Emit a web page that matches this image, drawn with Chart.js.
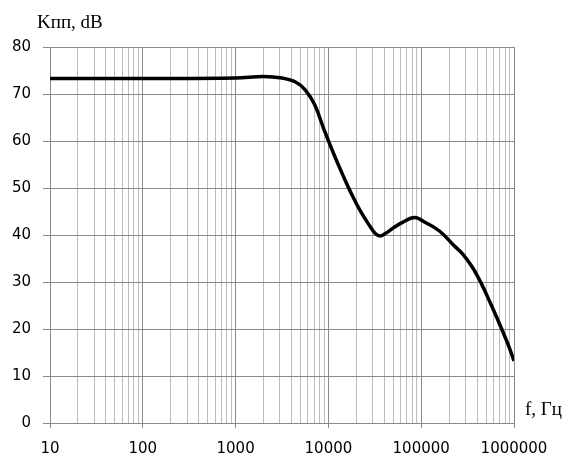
<!DOCTYPE html>
<html>
<head>
<meta charset="utf-8">
<script src="https://cdn.jsdelivr.net/npm/chart.js@4/dist/chart.umd.min.js"></script>
<style>
  html, body { margin: 0; padding: 0; background: #fff; }
  #wrap { width: 568px; height: 455px; }
</style>
</head>
<body>
<div id="wrap"><canvas id="kppChart" width="568" height="455"></canvas></div>
<script>
// Frequency response
const freqHz = [10, 100, 1000, 2000, 3160, 4470, 5620, 7080, 8910,
                11220, 14130, 17780, 22390, 28180, 32000, 36000, 41000, 50000, 63000,
                85110, 112200, 158500, 223900, 281800, 354800, 446700, 562300,
                707900, 891300, 1000000];
const gainDb = [73.3, 73.3, 73.4, 73.75, 73.4, 72.5, 70.9, 67.8, 62.6,
                57.6, 53.0, 48.7, 44.9, 41.8, 40.3, 39.8, 40.3, 41.5, 42.7,
                43.7, 42.6, 40.8, 37.8, 35.9, 33.2, 29.6, 25.3,
                20.8, 16.0, 13.2];

// Axis ticks
const decadeTicks = [10, 100, 1000, 10000, 100000, 1000000];
const minorSteps = [2, 3, 4, 5, 6, 7, 8, 9];
const yTicks = [0, 10, 20, 30, 40, 50, 60, 70, 80];

const yTitle = "Kпп, dB";
const xTitle = "f, Гц";

const points = freqHz.map((f, i) => ({ x: f, y: gainDb[i] }));

// all grid positions: decades plus 2..9 inside each decade
const xGridValues = [];
decadeTicks.forEach((d, i) => {
    xGridValues.push(d);
    if (i < decadeTicks.length - 1) {
        minorSteps.forEach(m => xGridValues.push(d * m));
    }
});

const isDecade = v => decadeTicks.includes(v);

// draws the two axis captions
const axisTitles = {
    id: "axisTitles",
    afterDraw(chart) {
        const c = chart.ctx;
        c.save();
        c.fillStyle = "#000";
        c.font = "19px 'Liberation Serif'";
        c.textBaseline = "alphabetic";
        c.textAlign = "left";
        c.fillText(yTitle, 37, 28);
        c.fillText(xTitle, 525, 415);
        c.restore();
    }
};

const ctx = document.getElementById("kppChart").getContext("2d");
new Chart(ctx, {
    type: "line",
    data: {
        datasets: [{
            data: points,
            borderColor: "#000",
            borderWidth: 3.5,
            pointRadius: 0,
            tension: 0.4,
            fill: false
        }]
    },
    options: {
        responsive: false,
        animation: false,
        layout: { padding: { top: 47, right: 54, left: 0, bottom: 0 } },
        plugins: {
            legend: { display: false },
            tooltip: { enabled: false }
        },
        scales: {
            x: {
                type: "logarithmic",
                min: 10,
                max: 1000000,
                afterBuildTicks: scale => {
                    scale.ticks = xGridValues.map(v => ({ value: v }));
                },
                afterFit: scale => { scale.height = 32; },
                ticks: {
                    autoSkip: false,
                    maxRotation: 0,
                    padding: 12,
                    color: "#000",
                    font: { family: "DejaVu Sans", size: 15 },
                    callback: v => isDecade(v) ? String(v) : ""
                },
                grid: {
                    color: c => isDecade(c.tick.value) ? "#8a8a8a" : "#bdbdbd",
                    tickColor: c => isDecade(c.tick.value) ? "#8a8a8a" : "rgba(0,0,0,0)",
                    tickLength: 5,
                    lineWidth: 1
                },
                border: { color: "#8a8a8a" }
            },
            y: {
                min: 0,
                max: 80,
                afterBuildTicks: scale => {
                    scale.ticks = yTicks.map(v => ({ value: v }));
                },
                afterFit: scale => { scale.width = 50; },
                ticks: {
                    padding: 12,
                    color: "#000",
                    font: { family: "DejaVu Sans", size: 15 }
                },
                grid: {
                    color: "#8a8a8a",
                    tickColor: "#8a8a8a",
                    tickLength: 7,
                    lineWidth: 1
                },
                border: { color: "#8a8a8a" }
            }
        }
    },
    plugins: [axisTitles]
});
</script>
</body>
</html>
